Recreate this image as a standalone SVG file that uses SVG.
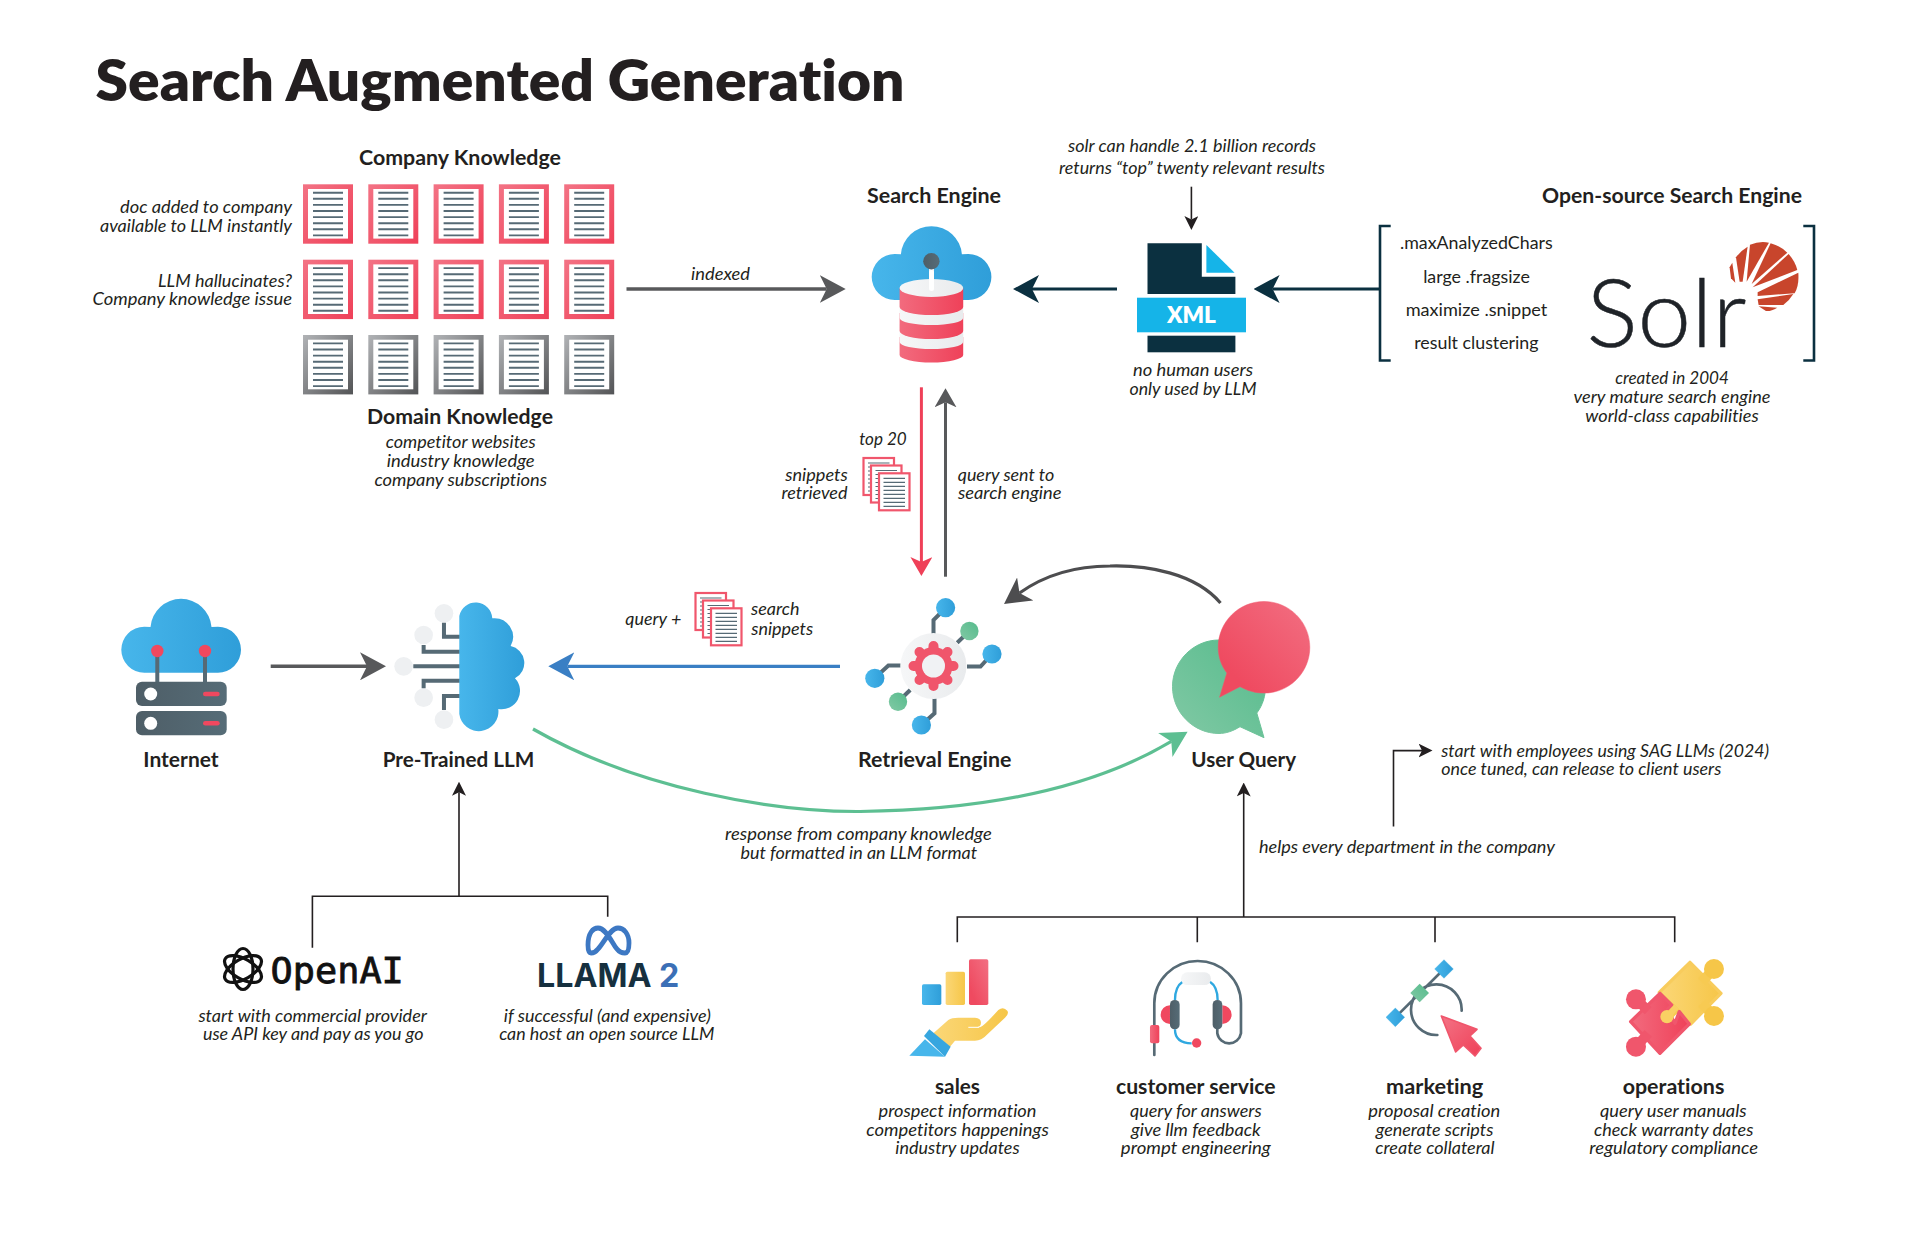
<svg xmlns="http://www.w3.org/2000/svg" xmlns:xlink="http://www.w3.org/1999/xlink" width="1920" height="1242" viewBox="0 0 1920 1242">
<style>
text{font-family:Lato,"Noto Sans",sans-serif;fill:#231f20;text-anchor:middle;font-variant-ligatures:none}
.i{font-style:italic;font-size:18px}
.b{font-weight:700;font-size:21px}
.r{font-size:18px}
.cn{fill:none;stroke-linejoin:miter}
.tree{fill:none;stroke:#231f20;stroke-width:1.6}
.ln{stroke:#566a75;stroke-width:4;fill:none}
.bk{fill:none;stroke:#0b3040;stroke-width:2.6}
</style>
<defs>
<linearGradient id="gBlue" x1="0" y1="0" x2="1" y2="0"><stop offset="0" stop-color="#47b6eb"/><stop offset="1" stop-color="#2f9ed9"/></linearGradient>
<linearGradient id="gRed" x1="0" y1="0" x2="1" y2="1"><stop offset="0" stop-color="#f37385"/><stop offset="1" stop-color="#ef4058"/></linearGradient>
<linearGradient id="gRedH" x1="0" y1="0" x2="1" y2="0"><stop offset="0" stop-color="#f26b7e"/><stop offset="1" stop-color="#ef4159"/></linearGradient>
<linearGradient id="gRedB" x1="0" y1="1" x2="1" y2="0"><stop offset="0.2" stop-color="#ef4a60"/><stop offset="1" stop-color="#f26f82"/></linearGradient>
<linearGradient id="gGray" x1="0" y1="0" x2="1" y2="1"><stop offset="0" stop-color="#b1b3b6"/><stop offset="1" stop-color="#535456"/></linearGradient>
<linearGradient id="gGreen" x1="0" y1="1" x2="1" y2="0"><stop offset="0" stop-color="#82c9a5"/><stop offset="1" stop-color="#55bb8c"/></linearGradient>
<linearGradient id="gYel" x1="0" y1="0" x2="1" y2="0"><stop offset="0" stop-color="#fbd777"/><stop offset="1" stop-color="#f6c648"/></linearGradient>
<linearGradient id="gSlate" x1="0" y1="0" x2="1" y2="0"><stop offset="0" stop-color="#4e5e67"/><stop offset="1" stop-color="#566c77"/></linearGradient>
<linearGradient id="gWhite" x1="0" y1="0" x2="1" y2="0"><stop offset="0" stop-color="#f6f7f8"/><stop offset="1" stop-color="#e9ebed"/></linearGradient>
<marker id="mGray" markerUnits="userSpaceOnUse" viewBox="0 0 26 28" refX="7" refY="14" markerWidth="26" markerHeight="28" orient="auto"><path d="M0 0L26 14L0 28L7 14Z" fill="#58595b"/></marker>
<marker id="mNavy" markerUnits="userSpaceOnUse" viewBox="0 0 26 28" refX="7" refY="14" markerWidth="26" markerHeight="28" orient="auto"><path d="M0 0L26 14L0 28L7 14Z" fill="#0b3040"/></marker>
<marker id="mBlue" markerUnits="userSpaceOnUse" viewBox="0 0 26 28" refX="7" refY="14" markerWidth="26" markerHeight="28" orient="auto"><path d="M0 0L26 14L0 28L7 14Z" fill="#3a7fc4"/></marker>
<marker id="mGreen" markerUnits="userSpaceOnUse" viewBox="0 0 26 28" refX="7" refY="14" markerWidth="26" markerHeight="28" orient="auto"><path d="M0 0L26 14L0 28L7 14Z" fill="#5dbf92"/></marker>
<marker id="mDark" markerUnits="userSpaceOnUse" viewBox="0 0 26 28" refX="7" refY="14" markerWidth="26" markerHeight="28" orient="auto"><path d="M0 0L26 14L0 28L7 14Z" fill="#4d4d4f"/></marker>
<marker id="mGrayS" markerUnits="userSpaceOnUse" viewBox="0 0 19 22" refX="5" refY="11" markerWidth="19" markerHeight="22" orient="auto"><path d="M0 0L19 11L0 22L5 11Z" fill="#58595b"/></marker>
<marker id="mRedS" markerUnits="userSpaceOnUse" viewBox="0 0 19 22" refX="5" refY="11" markerWidth="19" markerHeight="22" orient="auto"><path d="M0 0L19 11L0 22L5 11Z" fill="#ef4058"/></marker>
<marker id="mBlack" markerUnits="userSpaceOnUse" viewBox="0 0 14 14" refX="3.5" refY="7" markerWidth="14" markerHeight="14" orient="auto"><path d="M0 0L14 7L0 14L3.5 7Z" fill="#231f20"/></marker>
<g id="lines"><path d="M10 8.4H40M10 14.5H40M10 20.6H40M10 26.7H40M10 32.8H40M10 38.9H40M10 45H40M10 51.1H40" stroke="#566a75" stroke-width="1.9" fill="none"/></g>
<g id="docR"><rect width="50" height="59.4" fill="url(#gRed)"/><rect x="5" y="4.7" width="40" height="49.6" fill="#fff"/><use href="#lines"/></g>
<g id="docG"><rect width="50" height="59.4" fill="url(#gGray)"/><rect x="5" y="4.7" width="40" height="49.6" fill="#fff"/><use href="#lines"/></g>
<g id="page"><rect x="1" y="1" width="30.5" height="37" fill="#fff" stroke="#f0566c" stroke-width="2.2"/><path d="M5.5 6H27M5.5 10H27M5.5 14H27M5.5 18H27M5.5 22H27M5.5 26H27M5.5 30H27M5.5 34H27" stroke="#566a75" stroke-width="1.2"/></g>
<g id="stack"><use href="#page"/><use href="#page" x="7.5" y="7.5"/><use href="#page" x="15.5" y="15.3"/></g>
<path id="cloud" d="M144.3 672.7A23 23 0 0 1 144.3 626.7L150.500 627A30.600 30.600 0 0 1 211.500 627L218 626.7A23 23 0 0 1 218 672.7Z" fill="url(#gBlue)"/>
</defs>
<rect width="1920" height="1242" fill="#fff"/>

<g id="connectors">
<path class="cn" d="M626.5 289H826.7" stroke="#58595b" stroke-width="3.4" marker-end="url(#mGray)"/>
<path class="cn" d="M1117 289H1032" stroke="#0b3040" stroke-width="3" marker-end="url(#mNavy)"/>
<path class="cn" d="M1380 289H1272.6" stroke="#0b3040" stroke-width="3" marker-end="url(#mNavy)"/>
<path class="cn" d="M1191.4 186.7V219.5" stroke="#231f20" stroke-width="1.6" marker-end="url(#mBlack)"/>
<path class="cn" d="M921.4 387.3V562" stroke="#ef4058" stroke-width="3" marker-end="url(#mRedS)"/>
<path class="cn" d="M945.5 576.7V402.3" stroke="#58595b" stroke-width="3" marker-end="url(#mGrayS)"/>
<path class="cn" d="M270.7 666.3H367" stroke="#58595b" stroke-width="3.4" marker-end="url(#mGray)"/>
<path class="cn" d="M840 666.3H567.3" stroke="#3a7fc4" stroke-width="3.2" marker-end="url(#mBlue)"/>
<path class="cn" d="M533 729C640 790 775 812 860 811.500C980 810 1090 790 1171.3 741.4" stroke="#5dbf92" stroke-width="3.2" marker-end="url(#mGreen)"/>
<path class="cn" d="M1220.5 603C1195 573 1147 565 1110 566C1072 566 1042 577 1019.5 593" stroke="#4d4d4f" stroke-width="3.2" marker-end="url(#mDark)"/>
<path class="tree" d="M312.4 947.7V896.3H607.7V916.7M459 896.3V792.2" marker-end="url(#mBlack)"/>
<path class="tree" d="M957.3 942.3V917H1674.7V942.3M1197.3 917V942.3M1435 917V942.3M1243.7 917V793" marker-end="url(#mBlack)"/>
<path class="tree" d="M1393.5 826.5V750.6H1422" marker-end="url(#mBlack)"/>
</g>

<g id="title"><text x="500" y="101" font-size="57" font-weight="800" textLength="809" lengthAdjust="spacingAndGlyphs">Search Augmented Generation</text></g>

<g id="company-knowledge">
<text class="b" x="460" y="165" textLength="202" lengthAdjust="spacingAndGlyphs">Company Knowledge</text>
<use href="#docR" x="303" y="184.3"/><use href="#docR" x="368.3" y="184.3"/><use href="#docR" x="433.6" y="184.3"/><use href="#docR" x="498.9" y="184.3"/><use href="#docR" x="564.2" y="184.3"/>
<use href="#docR" x="303" y="259.7"/><use href="#docR" x="368.3" y="259.7"/><use href="#docR" x="433.6" y="259.7"/><use href="#docR" x="498.9" y="259.7"/><use href="#docR" x="564.2" y="259.7"/>
<text class="i" x="206" y="212.7" textLength="172" lengthAdjust="spacingAndGlyphs">doc added to company</text>
<text class="i" x="196" y="231.7" textLength="192" lengthAdjust="spacingAndGlyphs">available to LLM instantly</text>
<text class="i" x="225" y="286.7" textLength="134" lengthAdjust="spacingAndGlyphs">LLM hallucinates?</text>
<text class="i" x="192.3" y="305.3" textLength="199.4" lengthAdjust="spacingAndGlyphs">Company knowledge issue</text>
</g>
<g id="domain-knowledge">
<use href="#docG" x="303" y="335"/><use href="#docG" x="368.3" y="335"/><use href="#docG" x="433.6" y="335"/><use href="#docG" x="498.9" y="335"/><use href="#docG" x="564.2" y="335"/>
<text class="b" x="460" y="424" textLength="186" lengthAdjust="spacingAndGlyphs">Domain Knowledge</text>
<text class="i" x="460.7" y="448.3" textLength="150" lengthAdjust="spacingAndGlyphs">competitor websites</text>
<text class="i" x="460.7" y="466.7" textLength="148" lengthAdjust="spacingAndGlyphs">industry knowledge</text>
<text class="i" x="460.7" y="485.7" textLength="172.6" lengthAdjust="spacingAndGlyphs">company subscriptions</text>
</g>
<g id="indexed-label"><text class="i" x="720.500" y="280" textLength="59" lengthAdjust="spacingAndGlyphs">indexed</text></g>

<g id="search-engine">
<text class="b" x="934" y="202.7" textLength="134" lengthAdjust="spacingAndGlyphs">Search Engine</text>
<use href="#cloud" x="750.4" y="-372.7"/>
<rect x="929" y="262" width="5" height="30" rx="2.5" fill="#f2f3f5"/>
<circle cx="931.4" cy="261.3" r="8.2" fill="url(#gSlate)"/>
<path d="M899.6 337V355A31.8 7.5 0 0 0 963.2 355V337Z" fill="url(#gRedH)"/>
<path d="M899.6 324V342A31.8 7 0 0 0 963.2 342V324Z" fill="url(#gWhite)"/>
<path d="M899.6 313V331A31.8 8 0 0 0 963.2 331V313Z" fill="url(#gRedH)"/>
<path d="M899.6 300V318A31.8 7 0 0 0 963.2 318V300Z" fill="url(#gWhite)"/>
<path d="M899.6 288V307A31.8 8 0 0 0 963.2 307V288Z" fill="url(#gRedH)"/>
<ellipse cx="931.4" cy="288" rx="31.8" ry="9" fill="url(#gWhite)"/>
<rect x="929" y="270" width="5" height="21" rx="2.5" fill="#fff"/>
</g>

<g id="xml-file">
<text class="i" x="1192" y="151.7" textLength="248" lengthAdjust="spacingAndGlyphs">solr can handle 2.1 billion records</text>
<text class="i" x="1192" y="174" textLength="266" lengthAdjust="spacingAndGlyphs">returns “top” twenty relevant results</text>
<path d="M1147.5 243.3H1201.8V276.7H1235.4V294H1147.5Z" fill="#0b3040"/>
<path d="M1206.4 245L1234.6 272.7H1206.4Z" fill="#15b4e8"/>
<rect x="1137" y="297.7" width="109" height="34.6" fill="#15b4e8"/>
<rect x="1147.5" y="335.7" width="87.9" height="16.6" fill="#0b3040"/>
<text x="1191.4" y="323.3" font-size="23" font-weight="800" style="fill:#fff" textLength="49" lengthAdjust="spacingAndGlyphs">XML</text>
<text class="i" x="1193" y="376" textLength="120" lengthAdjust="spacingAndGlyphs">no human users</text>
<text class="i" x="1193" y="395" textLength="127" lengthAdjust="spacingAndGlyphs">only used by LLM</text>
</g>

<g id="solr">
<text class="b" x="1672" y="203.3" textLength="260" lengthAdjust="spacingAndGlyphs">Open-source Search Engine</text>
<path class="bk" d="M1390.7 226H1380V360.5H1390.7"/>
<path class="bk" d="M1803.3 226H1814V360.5H1803.3"/>
<text class="r" x="1476.3" y="249.3" textLength="152.7" lengthAdjust="spacingAndGlyphs">.maxAnalyzedChars</text>
<text class="r" x="1476.5" y="282.7" textLength="106.7" lengthAdjust="spacingAndGlyphs">large .fragsize</text>
<text class="r" x="1476.5" y="316" textLength="141.7" lengthAdjust="spacingAndGlyphs">maximize .snippet</text>
<text class="r" x="1476.4" y="349" textLength="124.3" lengthAdjust="spacingAndGlyphs">result clustering</text>
<text x="1666.500" y="346.5" font-size="94" font-weight="300" style="fill:#1f2328;stroke:#1f2328;stroke-width:.5" textLength="160" lengthAdjust="spacingAndGlyphs">Solr</text>
<g transform="translate(1360 170) scale(.3333)" fill="#c8452c">
<path d="M1109 292L1117 278L1126 338L1113 325Z"/>
<path d="M1128 262Q1145 240 1163 230L1148 335L1139 335Z"/>
<path d="M1170 224Q1200 212 1227 218L1160 335Z"/>
<path d="M1232 220Q1262 228 1282 248L1175 342Z"/>
<path d="M1286 252Q1306 275 1312 300L1178 352Z"/>
<path d="M1315 308Q1318 345 1304 370L1193 378L1193 367Z"/>
<path d="M1300 372Q1288 392 1270 405L1196 405L1193 388Z"/>
<path d="M1252 413Q1232 425 1218 423L1196 409Z"/>
</g>
<text class="i" x="1672" y="384.3" textLength="113.7" lengthAdjust="spacingAndGlyphs">created in 2004</text>
<text class="i" x="1672" y="403.3" textLength="197" lengthAdjust="spacingAndGlyphs">very mature search engine</text>
<text class="i" x="1672" y="422" textLength="173.3" lengthAdjust="spacingAndGlyphs">world-class capabilities</text>
</g>

<g id="top20">
<text class="i" x="883" y="445" textLength="47.5" lengthAdjust="spacingAndGlyphs">top 20</text>
<text class="i" x="816.5" y="480.7" textLength="62.5" lengthAdjust="spacingAndGlyphs">snippets</text>
<text class="i" x="814.5" y="499.3" textLength="66" lengthAdjust="spacingAndGlyphs">retrieved</text>
<use href="#stack" x="862.5" y="457"/>
<text class="i" x="1006" y="480.7" textLength="96.5" lengthAdjust="spacingAndGlyphs">query sent to</text>
<text class="i" x="1009.7" y="499.3" textLength="103.6" lengthAdjust="spacingAndGlyphs">search engine</text>
</g>

<g id="internet">
<use href="#cloud"/>
<path class="ln" d="M157.3 651V682M205 651V682"/>
<circle cx="157.3" cy="651" r="6.2" fill="#f0485f"/><circle cx="205" cy="651" r="6.2" fill="#f0485f"/>
<rect x="136" y="681.7" width="90.7" height="24.3" rx="6" fill="url(#gSlate)"/>
<rect x="136" y="711" width="90.7" height="24.3" rx="6" fill="url(#gSlate)"/>
<circle cx="150.7" cy="694" r="6.5" fill="#fff"/><circle cx="150.7" cy="723.3" r="6.5" fill="#fff"/>
<rect x="203" y="691.7" width="16.7" height="4.6" rx="2.3" fill="#f0485f"/><rect x="203" y="721" width="16.7" height="4.6" rx="2.3" fill="#f0485f"/>
<text class="b" x="181" y="766.7" textLength="75.3" lengthAdjust="spacingAndGlyphs">Internet</text>
</g>

<g id="pre-trained-llm">
<g transform="translate(100 580) scale(.3333)">
<circle cx="1032" cy="100" r="28" fill="#eef0f2"/><circle cx="971" cy="165" r="28" fill="#eef0f2"/><circle cx="911" cy="259" r="28" fill="#eef0f2"/><circle cx="971" cy="353" r="28" fill="#eef0f2"/><circle cx="1032" cy="419" r="28" fill="#eef0f2"/>
<path d="M1032 128V170H1080M971 195V215H1080M940 259H1080M971 325V302H1080M1032 390V348H1080" fill="none" stroke="#566a75" stroke-width="12"/>
<path d="M1078 108A50 50 0 0 1 1177 115A56 56 0 0 1 1232 198A52 52 0 0 1 1245 295A55 55 0 0 1 1195 387A58.5 58.5 0 0 1 1078 402Z" fill="url(#gBlue)"/>
</g>
<text class="b" x="458.5" y="766.7" textLength="151.7" lengthAdjust="spacingAndGlyphs">Pre-Trained LLM</text>
</g>

<g id="query-snippets">
<text class="i" x="653.3" y="625" textLength="56" lengthAdjust="spacingAndGlyphs">query +</text>
<use href="#stack" x="694.5" y="592"/>
<text class="i" x="775.3" y="615.3" textLength="48.5" lengthAdjust="spacingAndGlyphs">search</text>
<text class="i" x="782.2" y="634.7" textLength="62" lengthAdjust="spacingAndGlyphs">snippets</text>
</g>

<g id="retrieval-engine">
<path class="ln" d="M933.5 634V620L945.6 608M967 666.5H980.5L992 654M900.5 665.5H888.4L874.8 678M934.5 698V713.3L921.4 725M957.2 642.7L969.4 631M910.2 690L898 701.7"/>
<circle cx="933.5" cy="666" r="33" fill="url(#gWhite)"/>
<circle cx="945.6" cy="607.7" r="9.6" fill="url(#gBlue)"/><circle cx="992" cy="654" r="9.6" fill="url(#gBlue)"/><circle cx="874.8" cy="678.3" r="9.6" fill="url(#gBlue)"/><circle cx="921.4" cy="725" r="9.6" fill="url(#gBlue)"/>
<circle cx="969.4" cy="631" r="9.2" fill="url(#gGreen)"/><circle cx="898" cy="701.7" r="9.2" fill="url(#gGreen)"/>
<g transform="translate(933.5 666)"><circle r="19" fill="#f0556b"/>
<path d="M0-20V20M-20 0H20M-14-14L14 14M-14 14L14-14" stroke="#f0556b" stroke-width="10" stroke-linecap="round"/>
<circle r="11.5" fill="#f0f2f4"/></g>
<text class="b" x="934.7" y="766.7" textLength="153.6" lengthAdjust="spacingAndGlyphs">Retrieval Engine</text>
</g>

<g id="user-query">
<path d="M1219 640C1245 640 1265.500 661 1265.500 687C1265.500 695 1263 705 1256.800 713L1264 737.700L1240 726.700C1233 731 1226 733.500 1219 733.500C1193.500 733.500 1172.500 712.500 1172.500 686.700C1172.500 661 1193.500 640 1219 640Z" fill="url(#gGreen)" stroke="url(#gGreen)" stroke-width="1" stroke-linejoin="round"/>
<path d="M1264 601.500C1289.300 601.500 1309.800 622 1309.800 647.300C1309.800 672.600 1289.300 693.100 1264 693.100C1255 693.100 1247 690.500 1240 686.700L1219.500 697.300L1226.800 673C1221 665.500 1218.200 656.500 1218.200 647.300C1218.200 622 1238.700 601.500 1264 601.500Z" fill="url(#gRedB)" stroke="#f0566c" stroke-width=".5" stroke-linejoin="round"/>
<text class="b" x="1243.7" y="766.7" textLength="104.7" lengthAdjust="spacingAndGlyphs">User Query</text>
</g>

<g id="response-label">
<text class="i" x="858.4" y="840" textLength="266.6" lengthAdjust="spacingAndGlyphs">response from company knowledge</text>
<text class="i" x="858.8" y="858.7" textLength="236.6" lengthAdjust="spacingAndGlyphs">but formatted in an LLM format</text>
</g>
<g id="rollout-labels">
<text class="i" x="1406.900" y="852.7" textLength="296" lengthAdjust="spacingAndGlyphs">helps every department in the company</text>
<text class="i" x="1605.200" y="756.7" textLength="328" lengthAdjust="spacingAndGlyphs">start with employees using SAG LLMs (2024)</text>
<text class="i" x="1581.300" y="775" textLength="280" lengthAdjust="spacingAndGlyphs">once tuned, can release to client users</text>
</g>

<g id="openai">
<g transform="translate(243 969)" fill="none" stroke="#111" stroke-width="3.200">
<ellipse rx="10" ry="20.500"/><ellipse rx="10" ry="20.500" transform="rotate(60)"/><ellipse rx="10" ry="20.500" transform="rotate(120)"/>
</g>
<text x="337.200" y="983.3" font-size="35" style="font-family:'DejaVu Sans Mono',monospace;fill:#111;stroke:#111;stroke-width:.8" textLength="133.200" lengthAdjust="spacingAndGlyphs">OpenAI</text>
<text class="i" x="312.700" y="1021.7" textLength="228.600" lengthAdjust="spacingAndGlyphs">start with commercial provider</text>
<text class="i" x="313.200" y="1040" textLength="220.500" lengthAdjust="spacingAndGlyphs">use API key and pay as you go</text>
</g>
<g id="llama2">
<path d="M588 945C588 933 593 928 598 928C606 928 612 943 617 949C620 953 623 953 625 953C628 953 629 949 629 943C629 934 624 928 618 928C610 928 604 943 598 949C595 953 592 953 591 953C588.500 953 588 949 588 945Z" fill="none" stroke="#3d78c3" stroke-width="4.800"/>
<text x="608.200" y="987.3" font-size="32" font-weight="700" style="font-family:Inter,Lato,sans-serif;fill:#16303f" textLength="142.400" lengthAdjust="spacingAndGlyphs">LLAMA <tspan style="fill:#3b6fb6">2</tspan></text>
<text class="i" x="607.300" y="1021.7" textLength="207" lengthAdjust="spacingAndGlyphs">if successful (and expensive)</text>
<text class="i" x="606.800" y="1040" textLength="215.300" lengthAdjust="spacingAndGlyphs">can host an open source LLM</text>
</g>

<g id="sales">
<g transform="translate(880 920) scale(.3333)">
<rect x="126" y="193" width="58" height="62" rx="5" fill="url(#gBlue)"/>
<rect x="197" y="155" width="58" height="100" rx="5" fill="url(#gYel)"/>
<rect x="267" y="118" width="58" height="137" rx="5" fill="url(#gRedB)"/>
<path d="M160 340L205 300Q215 293 235 293L285 293Q303 295 303 308Q303 322 285 322L265 322L300 322Q310 320 355 270Q370 258 382 272Q388 282 375 293L320 345Q305 362 285 362L225 362L210 380Z" fill="url(#gYel)"/>
<path d="M265 322H297" stroke="#fff" stroke-width="3"/>
<path d="M88 407L135 358L195 410Z" fill="#47b6eb"/>
<path d="M148 328L212 380L195 410L132 348Z" fill="#36a6df"/>
</g>
<text class="b" x="957.500" y="1094" textLength="45" lengthAdjust="spacingAndGlyphs">sales</text>
<text class="i" x="957.500" y="1116.7" textLength="158" lengthAdjust="spacingAndGlyphs">prospect information</text>
<text class="i" x="957.500" y="1135.7" textLength="182.500" lengthAdjust="spacingAndGlyphs">competitors happenings</text>
<text class="i" x="957.500" y="1154.3" textLength="124.300" lengthAdjust="spacingAndGlyphs">industry updates</text>
</g>

<g id="customer-service">
<g transform="translate(880 920) scale(.3333)">
<path d="M823 405V250A130 127 0 0 1 1083 250V340A36 36 0 0 1 1012 340V325" fill="none" stroke="#566a75" stroke-width="8" stroke-linecap="round"/>
<path d="M885 240Q885 200 908 185M1013 240Q1013 200 990 185M885 328Q885 370 935 370" fill="none" stroke="#2fa8e0" stroke-width="7"/>
<rect x="903" y="157" width="90" height="38" rx="19" fill="url(#gWhite)"/>
<path d="M870 256A28 28 0 0 0 870 312ZM1027 256A28 28 0 0 1 1027 312Z" fill="#f0485f"/>
<rect x="870" y="240" width="29" height="88" rx="14" fill="url(#gSlate)"/>
<rect x="998" y="240" width="29" height="88" rx="14" fill="url(#gSlate)"/>
<circle cx="950" cy="369" r="14" fill="#f0485f"/>
<rect x="810" y="315" width="28" height="55" rx="6" fill="url(#gRedH)"/>
</g>
<text class="b" x="1195.800" y="1094" textLength="159.700" lengthAdjust="spacingAndGlyphs">customer service</text>
<text class="i" x="1195.800" y="1116.7" textLength="131.700" lengthAdjust="spacingAndGlyphs">query for answers</text>
<text class="i" x="1195.800" y="1135.7" textLength="129.700" lengthAdjust="spacingAndGlyphs">give llm feedback</text>
<text class="i" x="1195.800" y="1154.3" textLength="150" lengthAdjust="spacingAndGlyphs">prompt engineering</text>
</g>

<g id="marketing">
<g transform="translate(1360 920) scale(.3333)">
<path d="M305 272A76 76 0 1 0 232 345M106 292L252 147" fill="none" stroke="#566a75" stroke-width="8" stroke-linecap="round"/>
<path d="M252 119L280 147L252 175L224 147Z" fill="url(#gBlue)" stroke="#2fa8e0" stroke-width="1"/>
<path d="M106 264L134 292L106 320L78 292Z" fill="url(#gBlue)" stroke="#2fa8e0" stroke-width="1"/>
<path d="M179 191L207 219L179 247L151 219Z" fill="url(#gGreen)"/>
<path d="M244 288L351 328L330 348L363 385L345 408L310 375L287 396Z" fill="url(#gRed)" stroke="#f0566c" stroke-width="5" stroke-linejoin="round"/>
</g>
<text class="b" x="1434.700" y="1094" textLength="97.300" lengthAdjust="spacingAndGlyphs">marketing</text>
<text class="i" x="1434.300" y="1116.7" textLength="132" lengthAdjust="spacingAndGlyphs">proposal creation</text>
<text class="i" x="1434.500" y="1135.7" textLength="117.700" lengthAdjust="spacingAndGlyphs">generate scripts</text>
<text class="i" x="1435" y="1154.3" textLength="119.300" lengthAdjust="spacingAndGlyphs">create collateral</text>
</g>

<g id="operations">
<g transform="translate(1360 920) scale(.3333)">
<path d="M898 217L990 127L1083 220L992 312Z" fill="url(#gYel)" stroke="#f8cc5c" stroke-width="10" stroke-linejoin="round"/>
<path d="M1062 147L1025 185M1062 288L1025 250M921 290L950 260" stroke="#f7ca52" stroke-width="30" fill="none"/>
<circle cx="1062" cy="147" r="30" fill="#f6c648"/><circle cx="1062" cy="288" r="30" fill="#f6c648"/>
<path d="M812 305L900 220L935 255L922 268L945 310L958 275L988 312L900 400Z" fill="url(#gRedH)" stroke="#f0566c" stroke-width="10" stroke-linejoin="round"/>
<path d="M828 238L865 272M828 380L865 340" stroke="#f0566c" stroke-width="30" fill="none"/>
<circle cx="828" cy="238" r="30" fill="#f0566c"/><circle cx="828" cy="380" r="30" fill="#f0566c"/>
<path d="M921 290L950 260" stroke="#f9d063" stroke-width="18" fill="none"/>
<circle cx="921" cy="290" r="20" fill="#f9d063"/>
</g>
<text class="b" x="1673.500" y="1094" textLength="101.700" lengthAdjust="spacingAndGlyphs">operations</text>
<text class="i" x="1673.300" y="1116.7" textLength="146.700" lengthAdjust="spacingAndGlyphs">query user manuals</text>
<text class="i" x="1673.700" y="1135.7" textLength="159.300" lengthAdjust="spacingAndGlyphs">check warranty dates</text>
<text class="i" x="1673.700" y="1154.3" textLength="168.700" lengthAdjust="spacingAndGlyphs">regulatory compliance</text>
</g>
</svg>
